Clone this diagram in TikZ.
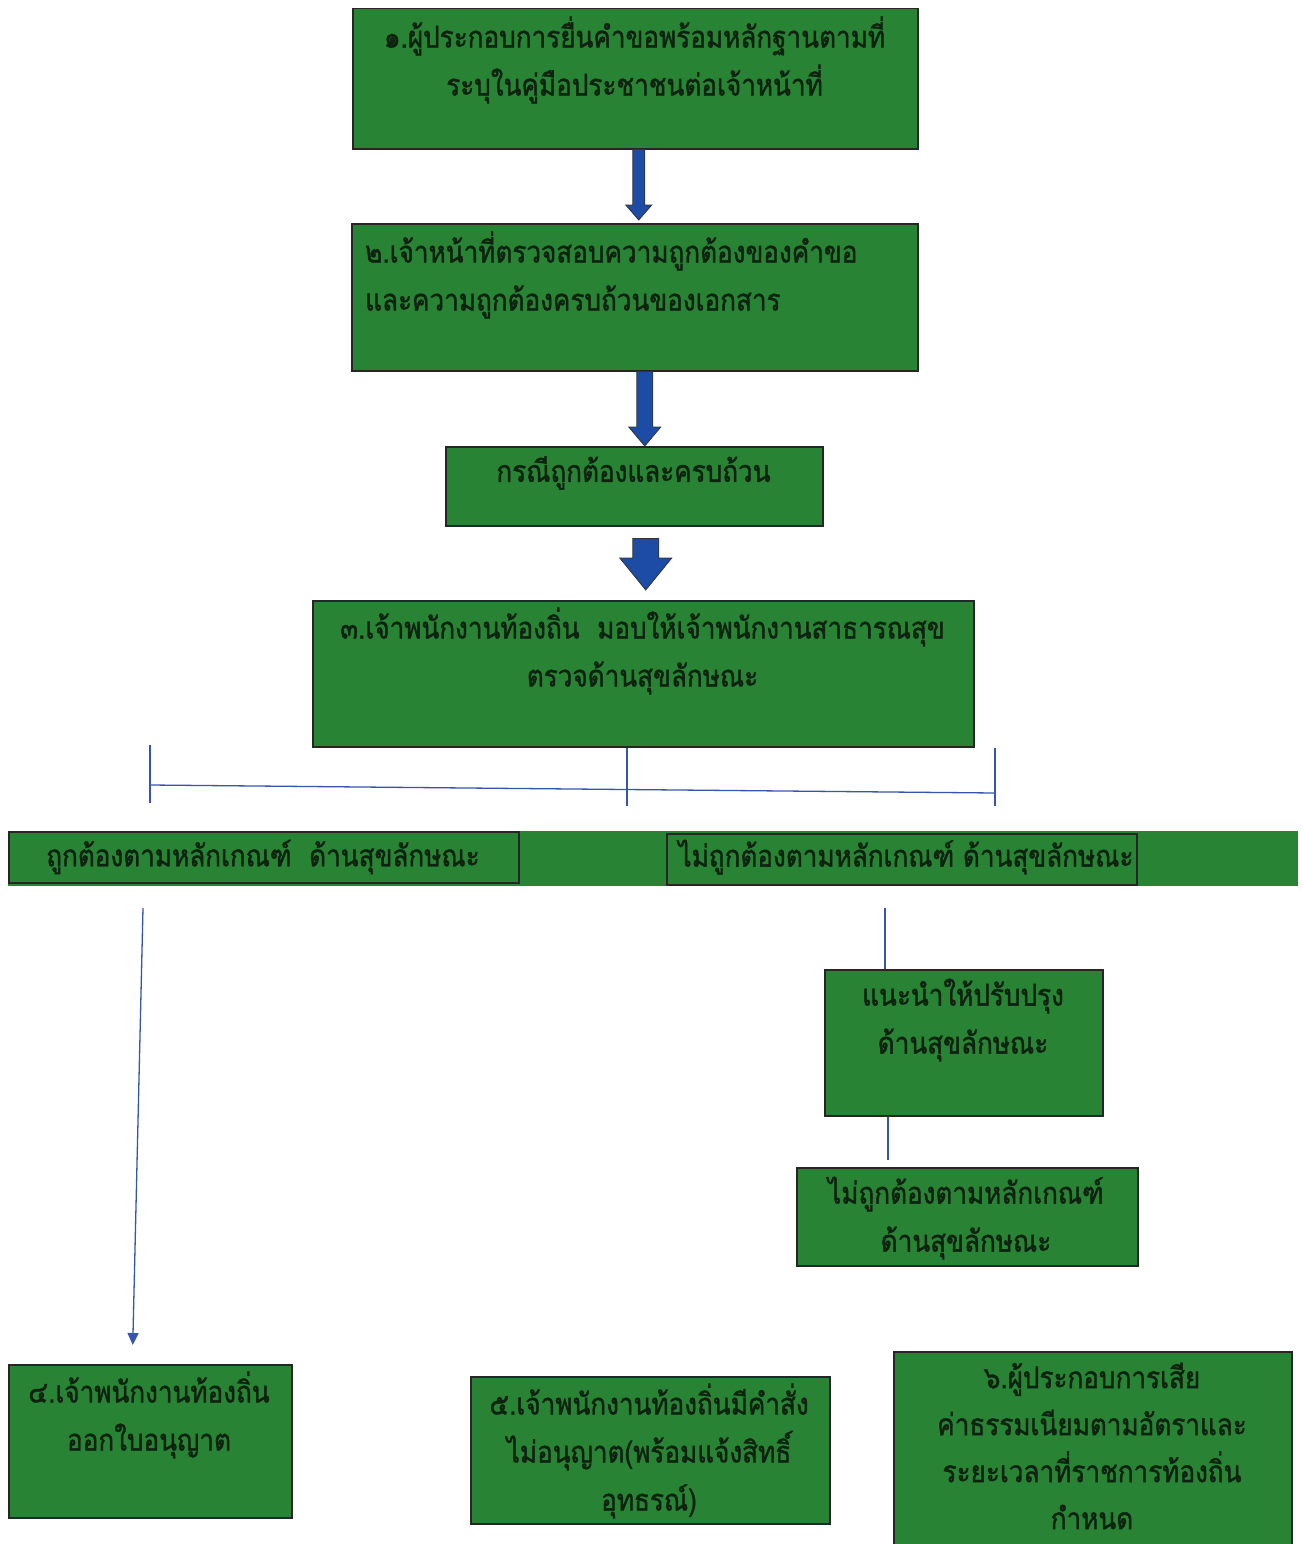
\documentclass[tikz,border=0pt]{standalone}
\usepackage{fontspec}
\newfontfamily\thaifont[Script=Thai, FakeStretch=0.87, FakeBold=1.4]{Loma}
\usetikzlibrary{calc,arrows.meta}
\definecolor{boxgreen}{RGB}{40,132,52}
\definecolor{arrowblue}{RGB}{28,76,165}
\definecolor{lineblue}{RGB}{55,85,175}
\definecolor{txtdark}{RGB}{14,34,16}
\newcommand{\blockarrow}[5]{%
  \filldraw[blockarr] ($(#1)+(-#3,0)$) -- ($(#2)+(-#3,-#5)$) -- ($(#2)+(-#4,-#5)$) -- (#2)
    -- ($(#2)+(#4,-#5)$) -- ($(#2)+(#3,-#5)$) -- ($(#1)+(#3,0)$) -- cycle;}
\begin{document}
\begin{tikzpicture}[x=1pt,y=-1pt,
  box/.style={draw=black!85, line width=1.5pt, fill=boxgreen, inner sep=0pt, anchor=north west},
  band/.style={fill=boxgreen, draw=none},
  txt/.style={font=\thaifont\fontsize{30}{48}\selectfont, text=txtdark, align=center, inner sep=0pt},
  blockarr/.style={fill=arrowblue, draw=black!80, line width=0.8pt},
  conn/.style={draw=lineblue, line width=1.3pt}]
\clip (0,0) rectangle (1301,1544);
\fill[white] (0,0) rectangle (1301,1544);
% boxes
\node[box, minimum width=565pt, minimum height=140pt] (b1) at (352,8) {};
\node[box, minimum width=566pt, minimum height=147pt] (b2) at (351,223) {};
\node[box, minimum width=377pt, minimum height=79pt] (b3) at (445,446) {};
\node[box, minimum width=661pt, minimum height=146pt] (b4) at (312,600) {};
\fill[band] (8,831) rectangle (1298,886);
\node[box, minimum width=510pt, minimum height=51pt] (b5) at (8,831) {};
\node[box, minimum width=470pt, minimum height=51pt] (b6) at (666,833) {};
\node[box, minimum width=278pt, minimum height=146pt] (b7) at (824,969) {};
\node[box, minimum width=341pt, minimum height=98pt] (b8) at (796,1167) {};
\node[box, minimum width=283pt, minimum height=153pt] (b9) at (8,1364) {};
\node[box, minimum width=359pt, minimum height=147pt] (b10) at (470,1376) {};
\node[box, minimum width=398pt, minimum height=205pt] (b11) at (893,1351) {};
% texts
\node[txt] (t1) at (634.5,60) {๑.ผู้ประกอบการยื่นคำขอพร้อมหลักฐานตามที่\\ระบุในคู่มือประชาชนต่อเจ้าหน้าที่};
\node[txt, align=left, anchor=west] (t2) at (365,275) {๒.เจ้าหน้าที่ตรวจสอบความถูกต้องของคำขอ\\และความถูกต้องครบถ้วนของเอกสาร};
\node[txt] (t3) at (633.5,473) {กรณีถูกต้องและครบถ้วน};
\node[txt] (t4) at (642.5,651) {๓.เจ้าพนักงานท้องถิ่น~~มอบให้เจ้าพนักงานสาธารณสุข\\ตรวจด้านสุขลักษณะ};
\node[txt] (t5) at (263,857) {ถูกต้องตามหลักเกณฑ์~~ด้านสุขลักษณะ};
\node[txt] (t6) at (906,857) {ไม่ถูกต้องตามหลักเกณฑ์ ด้านสุขลักษณะ};
\node[txt] (t7) at (963,1020) {แนะนำให้ปรับปรุง\\ด้านสุขลักษณะ};
\node[txt] (t8) at (966,1218) {ไม่ถูกต้องตามหลักเกณฑ์\\ด้านสุขลักษณะ};
\node[txt] (t9) at (149,1415) {๔.เจ้าพนักงานท้องถิ่น\\ออกใบอนุญาต};
\node[txt] (t10) at (649,1451) {๕.เจ้าพนักงานท้องถิ่นมีคำสั่ง\\ไม่อนุญาต(พร้อมแจ้งสิทธิ์\\อุทธรณ์)};
\node[txt, font=\thaifont\fontsize{30}{47}\selectfont] (t11) at (1092,1446) {๖.ผู้ประกอบการเสีย\\ค่าธรรมเนียมตามอัตราและ\\ระยะเวลาที่ราชการท้องถิ่น\\กำหนด};
% block arrows
\coordinate (a1s) at ($(b1.south)+(3.5,0)$);
\coordinate (a1e) at ($(b2.north)+(4,-3)$);
\blockarrow{a1s}{a1e}{6}{13}{15}
\coordinate (a2s) at ($(b2.south)+(10,0)$);
\coordinate (a2e) at ($(b3.north)+(10.5,0)$);
\blockarrow{a2s}{a2e}{8}{16}{19}
\coordinate (a3s) at ($(b3.south)+(11.5,12)$);
\coordinate (a3e) at ($(b4.north)+(2.5,-10)$);
\blockarrow{a3s}{a3e}{13}{26}{32}
% bracket
\coordinate (bl) at (150,785);
\coordinate (br) at (995,793);
\coordinate (blt) at (150,745);
\coordinate (blb) at (150,803);
\coordinate (bmt) at ($(b4.south west)+(315,0)$);
\coordinate (bmb) at (627,806);
\coordinate (brt) at (995,748);
\coordinate (brb) at (995,806);
\draw[conn] (bl) -- (br);
\draw[conn] (blt) -- (blb);
\draw[conn] (bmt) -- (bmb);
\draw[conn] (brt) -- (brb);
% lower connectors
\coordinate (l4s) at (143,908);
\coordinate (l4e) at ($(b9.north)+(-17.5,-19)$);
\draw[conn, -{Triangle[width=11pt,length=12pt]}] (l4s) -- (l4e);
\coordinate (l7s) at (885,908);
\draw[conn] (l7s) -- ($(b7.north west)+(61,0)$);
\coordinate (l8e) at ($(b8.north west)+(92,-7)$);
\draw[conn] ($(b7.south west)+(64,0)$) -- (l8e);
\end{tikzpicture}
\end{document}
